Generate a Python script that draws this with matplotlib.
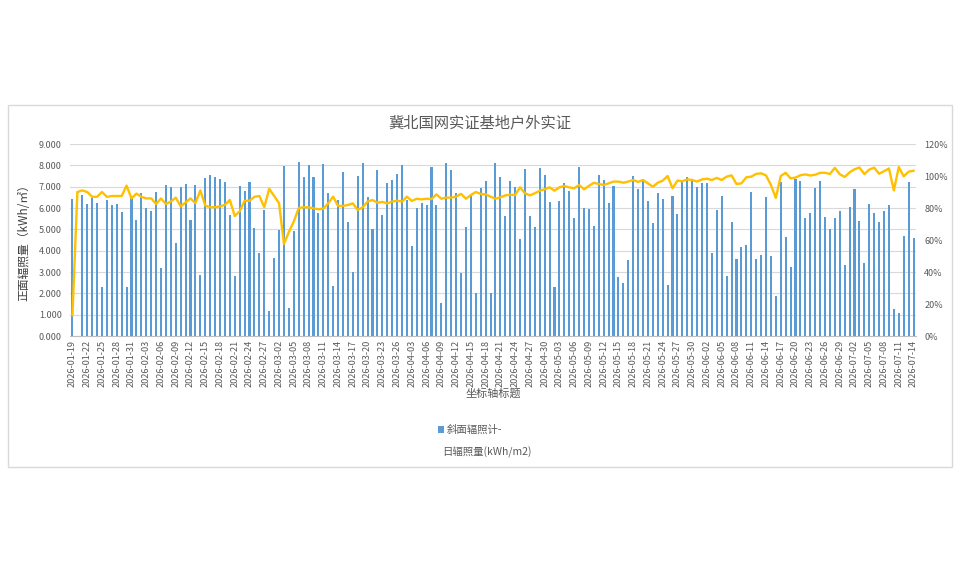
import pandas as pd
import matplotlib.pyplot as plt
import matplotlib.patches as mpatches
from matplotlib.ticker import PercentFormatter, MultipleLocator

plt.rcParams['font.family'] = ['Noto Sans CJK SC', 'DejaVu Sans']

# fechas (faltan algunos días entre 03-28 y 04-03)
fechas = list(pd.date_range('2026-01-19', '2026-03-28')) + list(pd.date_range('2026-04-03', '2026-07-14'))
etiquetas = [f.strftime('%Y-%m-%d') for f in fechas]

# 斜面辐照计-日辐照量 (kWh/m2)
irradiacion = [
    6.42, 0.00, 6.62, 6.17, 6.47, 6.23, 2.29, 6.39, 6.16, 6.19,
    5.79, 2.29, 6.47, 5.44, 6.68, 5.99, 5.84, 6.73, 3.20, 7.10,
    6.97, 4.34, 7.00, 7.12, 5.44, 7.09, 2.86, 7.42, 7.54, 7.47,
    7.37, 7.22, 5.68, 2.82, 7.04, 6.78, 7.23, 5.07, 3.89, 5.89,
    1.19, 3.64, 4.98, 7.97, 1.30, 4.94, 8.15, 7.45, 8.02, 7.44,
    5.77, 8.06, 6.71, 2.34, 6.39, 7.67, 5.36, 3.00, 7.48, 8.13,
    6.53, 5.00, 7.80, 5.66, 7.19, 7.30, 7.59, 8.01, 6.39, 4.22,
    6.00, 6.25, 6.12, 7.94, 6.14, 1.53, 8.10, 7.78, 6.71, 2.94,
    5.12, 6.55, 2.01, 6.96, 7.25, 2.00, 8.13, 7.44, 5.63, 7.25,
    6.97, 4.53, 7.81, 5.63, 5.10, 7.86, 7.55, 6.28, 2.30, 6.33,
    7.19, 6.80, 5.52, 7.94, 6.00, 5.94, 5.17, 7.56, 7.33, 6.24,
    7.03, 2.78, 2.47, 3.56, 7.50, 6.88, 7.37, 6.32, 5.28, 6.72,
    6.40, 2.37, 6.56, 5.71, 7.23, 7.45, 7.36, 7.00, 7.16, 7.18,
    3.90, 5.89, 6.56, 2.80, 5.36, 3.63, 4.18, 4.26, 6.76, 3.62,
    3.79, 6.53, 3.75, 1.89, 7.24, 4.66, 3.22, 7.37, 7.25, 5.53,
    5.78, 6.95, 7.28, 5.56, 5.00, 5.55, 5.86, 3.31, 6.06, 6.88,
    5.40, 3.44, 6.19, 5.75, 5.36, 5.86, 6.15, 1.25, 1.09, 4.70,
    7.22, 4.58,
]

# serie porcentual (eje derecho)
porcentaje = [
    13.0, 90.0, 91.0, 90.0, 87.0, 87.0, 90.0, 87.0, 87.5, 87.5,
    87.5, 94.0, 86.0, 89.0, 87.0, 86.0, 86.0, 82.5, 86.0, 82.5,
    84.0, 86.5, 81.0, 83.5, 86.0, 83.0, 91.0, 81.5, 80.5, 80.5,
    81.0, 82.0, 85.0, 75.0, 78.0, 84.5, 84.5, 87.0, 87.5, 80.5,
    92.0, 87.5, 83.0, 57.5, 65.0, 71.5, 80.0, 80.5, 80.4, 79.8,
    79.2, 79.6, 82.9, 87.1, 81.3, 81.3, 81.9, 82.9, 78.8, 80.4,
    84.0, 85.0, 83.3, 83.8, 82.9, 84.0, 84.6, 84.0, 87.1, 84.4,
    85.8, 85.4, 85.8, 85.6, 88.5, 85.8, 86.5, 86.5, 87.1, 88.8,
    85.8, 88.1, 90.0, 88.8, 88.5, 87.1, 85.8, 86.7, 87.9, 88.3,
    88.1, 92.9, 89.2, 87.9, 89.2, 90.8, 91.7, 92.9, 90.8, 92.9,
    93.8, 92.9, 92.3, 94.4, 91.7, 93.8, 95.8, 95.0, 94.4, 95.4,
    96.5, 96.5, 95.8, 96.5, 97.5, 96.3, 97.5, 95.4, 93.3, 95.8,
    97.1, 100.0, 92.3, 97.1, 96.7, 97.9, 97.5, 96.5, 97.9, 98.3,
    97.5, 98.8, 97.5, 99.6, 100.4, 95.0, 95.4, 99.2, 99.6, 101.3,
    101.7, 100.4, 94.4, 86.3, 100.0, 102.0, 98.5, 99.0, 100.5, 101.0,
    100.3, 100.8, 102.0, 102.0, 101.3, 105.1, 101.1, 99.4, 102.3, 104.2,
    105.3, 101.2, 104.0, 105.2, 101.4, 103.0, 104.7, 91.0, 105.6, 99.8,
    102.7, 103.3,
]

fig = plt.figure(figsize=(9.6, 5.63), dpi=100)

# marco del gráfico
marco = mpatches.Rectangle((8 / 960, 1 - 467 / 563), 944 / 960, 362 / 563,
                           transform=fig.transFigure, facecolor='none',
                           edgecolor='#d9d9d9', linewidth=1.0, zorder=-1)
fig.patches.append(marco)

ax = fig.add_axes([70 / 960, 1 - 336 / 563, 846 / 960, 192 / 563])
ax.set_facecolor('none')
x = list(range(len(irradiacion)))
ax.bar(x, irradiacion, width=0.42, color='#5b9bd5', zorder=2,
       label='斜面辐照计-')
ax.set_xlim(-0.5, len(x) - 0.5)
ax.set_ylim(0, 9)
ax.yaxis.set_major_locator(MultipleLocator(1))
ax.yaxis.set_major_formatter(plt.FormatStrFormatter('%.3f'))
ax.grid(axis='y', color='#d9d9d9', linewidth=0.8, zorder=0)
ax.set_axisbelow(True)
ax.set_xticks(x[::3])
ax.set_xticklabels(etiquetas[::3], rotation=90, fontsize=6.6, color='#595959')
ax.tick_params(axis='both', length=0, pad=3)
ax.tick_params(axis='y', labelsize=6.5, labelcolor='#595959', pad=6)
for s in ['top', 'right', 'left']:
    ax.spines[s].set_visible(False)
ax.spines['bottom'].set_color('#bfbfbf')
ax.set_ylabel('正面辐照量（kWh/㎡）', fontsize=8.5, color='#404040', labelpad=6)
ax.set_xlabel('坐标轴标题', fontsize=8, color='#595959', labelpad=1)

ax2 = ax.twinx()
ax2.plot(x, porcentaje, color='#ffc000', linewidth=1.7, zorder=3)
ax2.set_ylim(0, 120)
ax2.yaxis.set_major_locator(MultipleLocator(20))
ax2.yaxis.set_major_formatter(PercentFormatter(100, decimals=0))
ax2.tick_params(axis='y', length=0, labelsize=6.5, labelcolor='#595959', pad=6)
for s in ['top', 'right', 'left', 'bottom']:
    ax2.spines[s].set_visible(False)

fig.text(0.5, 1 - 123 / 563, '冀北国网实证基地户外实证', ha='center', va='center',
         fontsize=11, color='#595959')

# leyenda
fig.legend(loc='center', bbox_to_anchor=(470 / 960, 1 - 430 / 563), frameon=False,
           fontsize=7.5, handlelength=0.6, handleheight=0.6, handletextpad=0.3,
           labelcolor='#595959')
fig.text(487 / 960, 1 - 452 / 563, '日辐照量(kWh/m2)', ha='center', va='center',
         fontsize=7.5, color='#595959')

plt.savefig('out.png', dpi=100)
